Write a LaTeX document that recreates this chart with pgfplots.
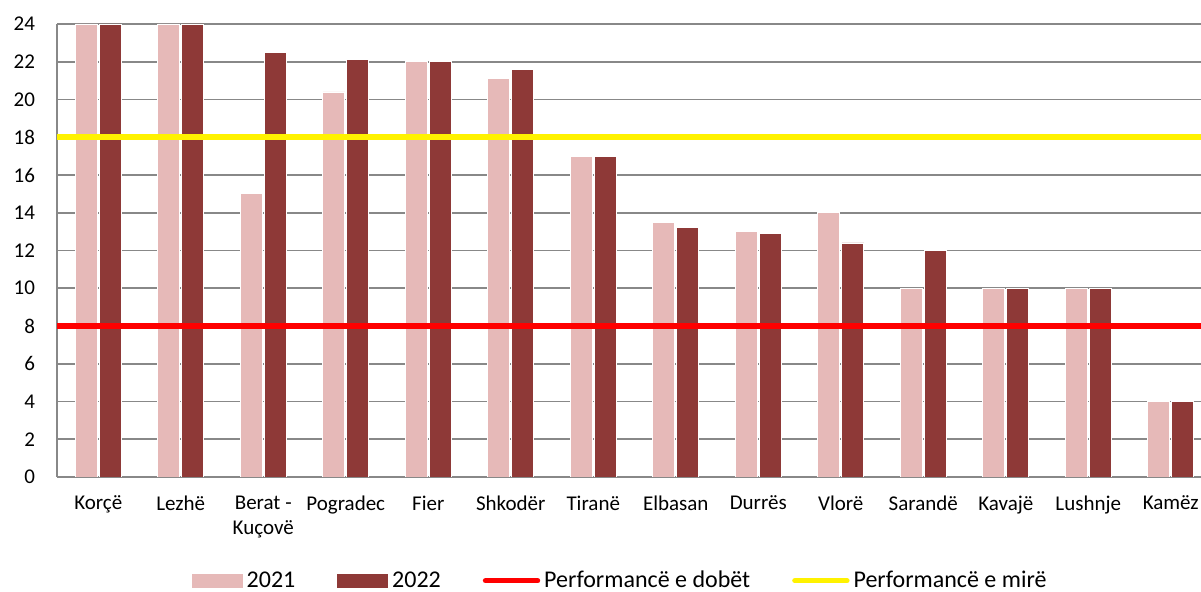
\documentclass[border=0pt]{standalone}
\usepackage{pgfplots}
\pgfplotsset{compat=1.18}
\usepackage{fontspec}
\setmainfont{Carlito}

\definecolor{bar21}{HTML}{E6B9B8}
\definecolor{bar22}{HTML}{8E3937}
\definecolor{gridgray}{HTML}{888888}

\begin{document}
\begin{tikzpicture}[font=\fontsize{10.5}{12.6}\selectfont]
\useasboundingbox (0,0) rectangle (600.5pt,296pt);
\begin{axis}[
	at={(28.5pt,57.5pt)}, anchor=south west,
	scale only axis,
	width=577.5pt, height=226.5pt,
	xmin=-0.5, xmax=13.5,
	ymin=0, ymax=24,
	ytick={0,2,...,24},
	xtick={0,...,13},
	xticklabels={Korçë,Lezhë,{Berat -\\Kuçovë},Pogradec,Fier,Shkodër,Tiranë,Elbasan,Durrës,Vlorë,Sarandë,Kavajë,Lushnje,Kamëz},
	xticklabel style={align=center, anchor=north, yshift=-6pt},
	yticklabel style={anchor=east, xshift=-7.5pt},
	/pgf/number format/assume math mode=true,
	major tick length=0pt,
	axis x line*=bottom, axis y line*=left,
	axis line style={gridgray, line width=0.8pt, -},
	ymajorgrids=true,
	grid style={gridgray, line width=0.8pt},
	ybar, bar width=11pt,
	legend columns=4,
	legend style={at={(0.4885,-0.229)}, anchor=center, draw=none, fill=none,
		inner sep=0pt, font=\fontsize{12}{14}\selectfont,
		/tikz/every even column/.append style={column sep=19pt}},
	legend cell align=left,
]
\addplot[fill=bar21, draw=white, line width=0.4pt, bar shift=-6pt,
	legend image code/.code={\fill[bar21] (0pt,-3.1pt) rectangle (25pt,3.1pt);}]
coordinates{
	(0,24) (1,24) (2,15) (3,20.4) (4,22) (5,21.1) (6,17)
	(7,13.5) (8,13.0) (9,14) (10,10) (11,10) (12,10) (13,4)
};
\addlegendentry{2021}

\addplot[fill=bar22, draw=white, line width=0.4pt, bar shift=6pt,
	legend image code/.code={\fill[bar22] (0pt,-3.1pt) rectangle (25pt,3.1pt);}]
coordinates{
	(0,24) (1,24) (2,22.5) (3,22.1) (4,22) (5,21.6) (6,17)
	(7,13.2) (8,12.9) (9,12.4) (10,12) (11,10) (12,10) (13,4)
};
\addlegendentry{2022}

\addplot[sharp plot, red, line width=3pt,
	legend image code/.code={\draw[red, line width=2.7pt, line cap=round] (0pt,0pt) -- (26pt,0pt);}]
coordinates{ (-0.5,8) (13.5,8) };
\addlegendentry{Performancë e dobët}

\addplot[sharp plot, yellow, line width=3pt,
	legend image code/.code={\draw[yellow, line width=2.7pt, line cap=round] (0pt,0pt) -- (26pt,0pt);}]
coordinates{ (-0.5,18) (13.5,18) };
\addlegendentry{Performancë e mirë}

\end{axis}
\end{tikzpicture}
\end{document}
